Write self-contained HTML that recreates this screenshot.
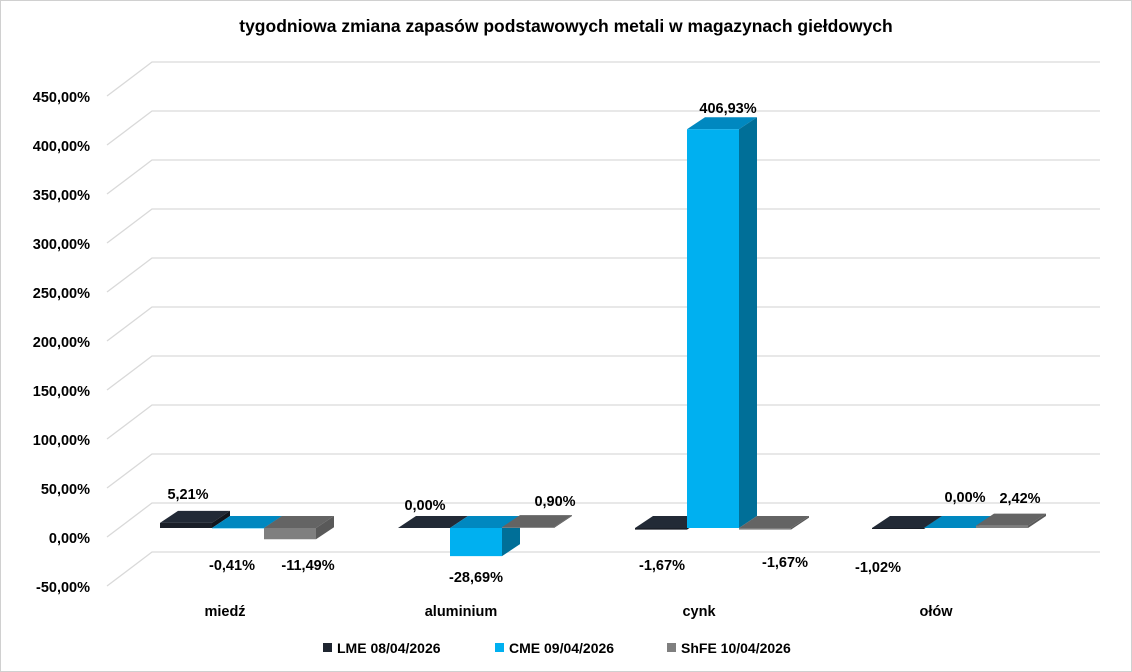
<!DOCTYPE html>
<html><head><meta charset="utf-8"><style>
html,body{margin:0;padding:0;background:#fff}
svg{display:block;font-family:"Liberation Sans",Arial,sans-serif}
text{font-weight:bold;fill:#000}
</style></head><body>
<svg id="s" width="1132" height="672" viewBox="0 0 1132 672">
<rect x="0.5" y="0.5" width="1131" height="671" fill="#fff" stroke="#d0d0d0"/>
<text x="566" y="32" text-anchor="middle" font-size="17.5">tygodniowa zmiana zapasów podstawowych metali w magazynach giełdowych</text>
<g id="grid" stroke="#d9d9d9" stroke-width="1.3" fill="none"></g>
<g font-size="14.5" text-anchor="end">
<text x="90" y="102">450,00%</text>
<text x="90" y="151">400,00%</text>
<text x="90" y="200">350,00%</text>
<text x="90" y="249">300,00%</text>
<text x="90" y="298">250,00%</text>
<text x="90" y="347">200,00%</text>
<text x="90" y="396">150,00%</text>
<text x="90" y="445">100,00%</text>
<text x="90" y="494">50,00%</text>
<text x="90" y="543">0,00%</text>
<text x="90" y="592">-50,00%</text>
</g>
<g id="bars"></g>
<g font-size="14.5" text-anchor="middle">
<text x="188" y="499">5,21%</text>
<text x="232" y="570">-0,41%</text>
<text x="308" y="570">-11,49%</text>
<text x="425" y="510">0,00%</text>
<text x="476" y="582">-28,69%</text>
<text x="555" y="506">0,90%</text>
<text x="728" y="113">406,93%</text>
<text x="662" y="570">-1,67%</text>
<text x="785" y="567">-1,67%</text>
<text x="878" y="572">-1,02%</text>
<text x="965" y="502">0,00%</text>
<text x="1020" y="503">2,42%</text>
</g>
<g font-size="14.5" text-anchor="middle">
<text x="225" y="616">miedź</text>
<text x="461" y="616">aluminium</text>
<text x="699" y="616">cynk</text>
<text x="936" y="616">ołów</text>
</g>
<g font-size="14">
<rect x="323" y="643" width="9" height="9" fill="#1f2530"/><text x="337" y="653">LME 08/04/2026</text>
<rect x="495" y="643" width="9" height="9" fill="#00b0f0"/><text x="509" y="653">CME 09/04/2026</text>
<rect x="667" y="643" width="9" height="9" fill="#7f7f7f"/><text x="681" y="653">ShFE 10/04/2026</text>
</g>
</svg>
<script>
var ns="http://www.w3.org/2000/svg",g=document.getElementById("grid"),b=document.getElementById("bars");
for(var i=0;i<11;i++){var yb=62+i*49;var p=document.createElementNS(ns,"polyline");
p.setAttribute("points",(107)+","+(yb+34)+" 152,"+yb+" 1100,"+yb);g.appendChild(p);}
var C={L:["#1a1f28","#222a36","#12161d"],C:["#00b0f0","#0088c0","#006f98"],S:["#7f7f7f","#646464","#595959"]};
function poly(pts,f){var p=document.createElementNS(ns,"polygon");p.setAttribute("points",pts);p.setAttribute("fill",f);b.appendChild(p);}
function bar(x0,x1,v,c){var z=528,d=18,h=v*0.98,t=v>=0?z-h:z,bt=v>=0?z:z-h;
poly(x0+","+t+" "+x1+","+t+" "+(x1+d)+","+(t-12)+" "+(x0+d)+","+(t-12),c[1]);
poly(x1+","+t+" "+(x1+d)+","+(t-12)+" "+(x1+d)+","+(bt-12)+" "+x1+","+bt,c[2]);
poly(x0+","+t+" "+x1+","+t+" "+x1+","+bt+" "+x0+","+bt,c[0]);}
var data=[[160,5.21,-0.41,-11.49],[398,0,-28.69,0.9],[635,-1.67,406.93,-1.67],[872,-1.02,0,2.42]];
data.forEach(function(r){var x=r[0];bar(x,x+52,r[1],C.L);bar(x+52,x+104,r[2],C.C);bar(x+104,x+156,r[3],C.S);});
</script>
</body></html>
